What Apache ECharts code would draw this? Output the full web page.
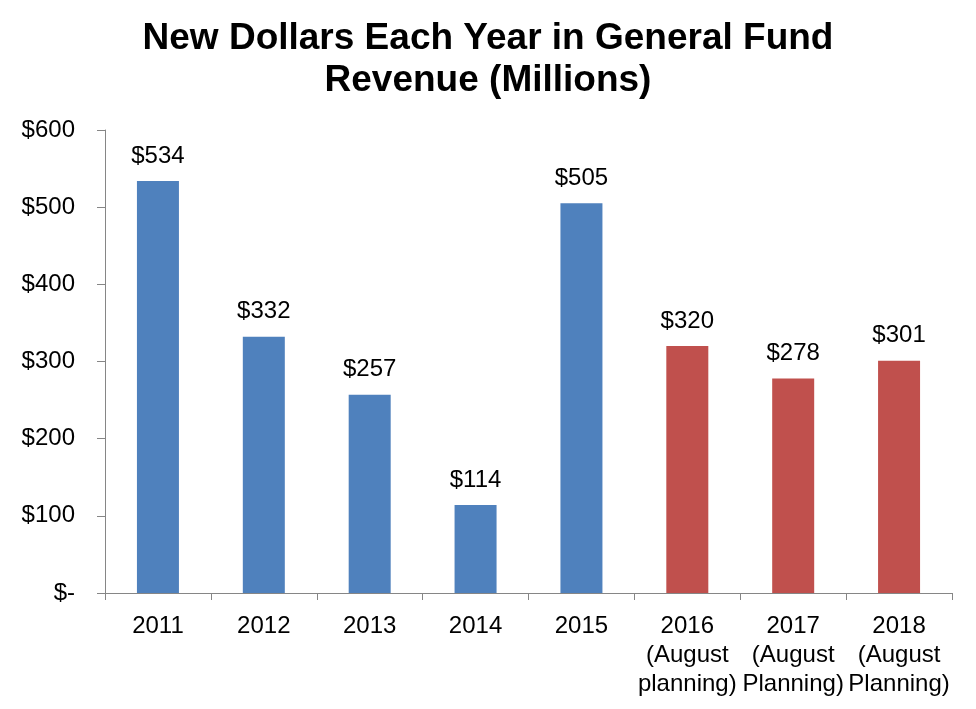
<!DOCTYPE html>
<html>
<head>
<meta charset="utf-8">
<script src="https://cdn.jsdelivr.net/npm/echarts@6/dist/echarts.min.js"></script>
<style>
html,body{margin:0;padding:0;background:#fff;}
#chart{width:976px;height:709px;}
</style>
</head>
<body>
<div id="chart"></div>
<script>
const titleText = 'New Dollars Each Year in General Fund\nRevenue (Millions)';
const categories = ['2011', '2012', '2013', '2014', '2015',
  '2016\n(August\nplanning)', '2017\n(August\nPlanning)', '2018\n(August\nPlanning)'];
const values = [534, 332, 257, 114, 505, 320, 278, 301];
const kinds = ['actual', 'actual', 'actual', 'actual', 'actual', 'projected', 'projected', 'projected'];
const yTicks = {min: 0, max: 600, interval: 100};

const kindColor = {actual: '#4F81BD', projected: '#C0504D'};
const font = '"Liberation Sans", Arial, sans-serif';

const chart = echarts.init(document.getElementById('chart'), null, {renderer: 'canvas'});
chart.setOption({
  animation: false,
  backgroundColor: '#ffffff',
  title: {
    text: titleText,
    left: 'center',
    top: 13,
    textStyle: {fontFamily: font, fontSize: 37, fontWeight: 'bold', color: '#000', lineHeight: 42}
  },
  grid: {left: 105, right: 24, top: 130, bottom: 116, containLabel: false},
  xAxis: {
    type: 'category',
    data: categories,
    axisLine: {show: true, lineStyle: {color: '#868686', width: 1}},
    axisTick: {show: true, length: 7, alignWithLabel: false, lineStyle: {color: '#868686'}},
    axisLabel: {fontFamily: font, fontSize: 24, color: '#000', margin: 19, lineHeight: 29, interval: 0}
  },
  yAxis: {
    type: 'value',
    min: yTicks.min, max: yTicks.max, interval: yTicks.interval,
    axisLine: {show: true, lineStyle: {color: '#868686', width: 1}},
    axisTick: {show: true, length: 8, lineStyle: {color: '#868686'}},
    splitLine: {show: false},
    axisLabel: {
      fontFamily: font, fontSize: 24, color: '#000', margin: 30,
      formatter: v => v === 0 ? '$-' : '$' + v
    }
  },
  series: [{
    type: 'bar',
    barWidth: 42,
    data: values.map((v, i) => ({value: v, itemStyle: {color: kindColor[kinds[i]]}})),
    label: {
      show: true, position: 'top', distance: 13,
      fontFamily: font, fontSize: 24, color: '#000',
      formatter: p => '$' + p.value
    }
  }]
});
</script>
</body>
</html>
